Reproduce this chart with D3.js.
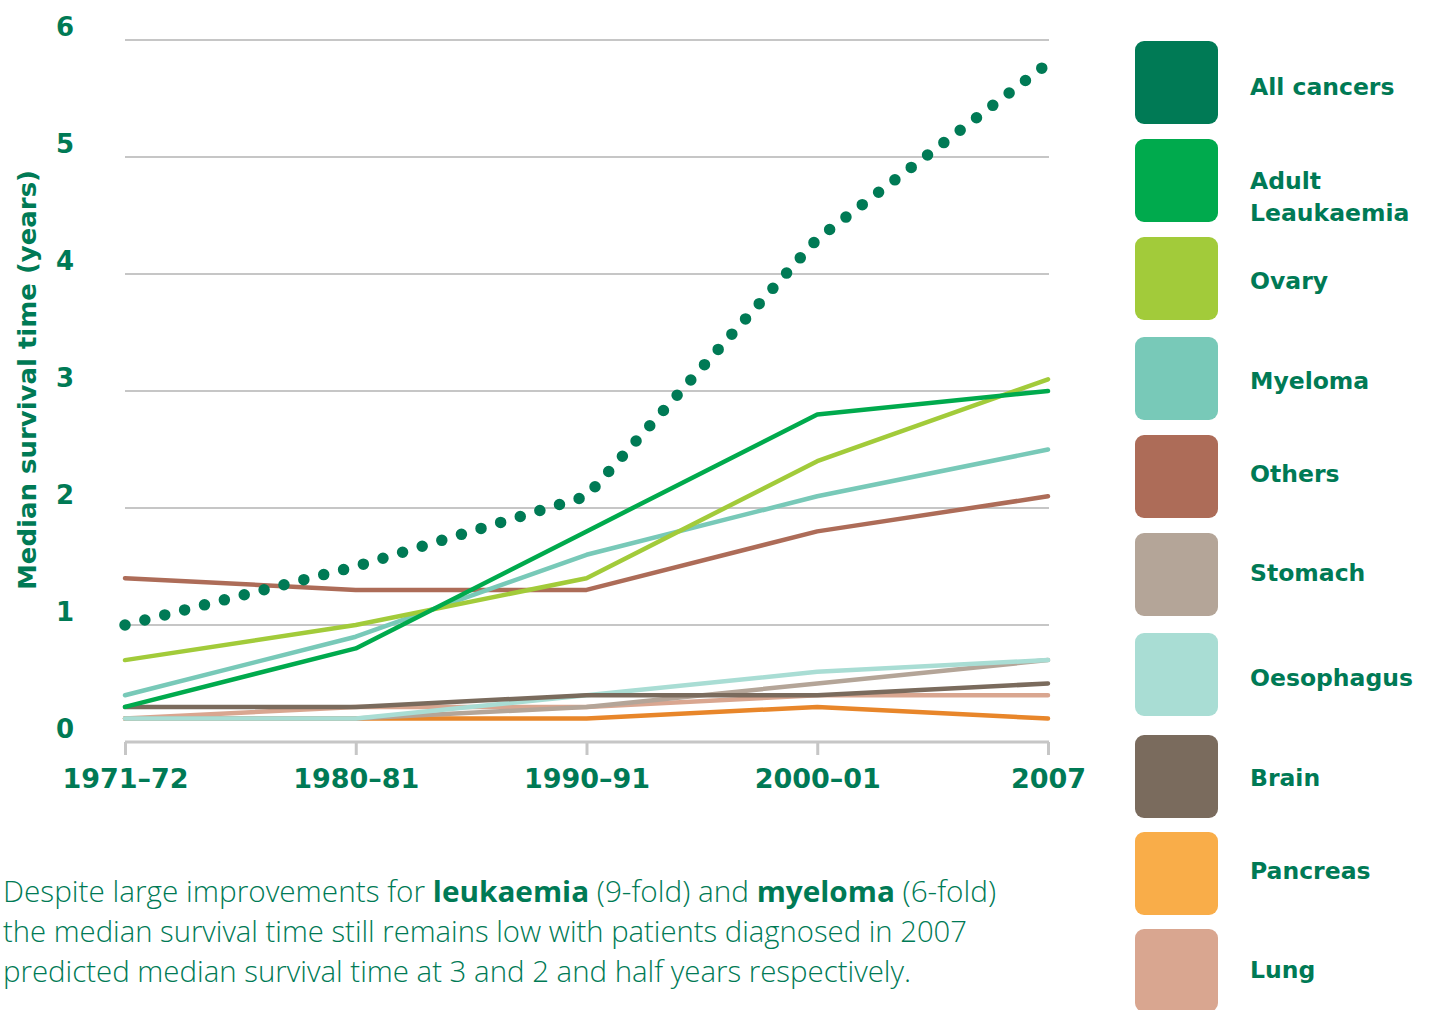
<!DOCTYPE html>
<html><head><meta charset="utf-8">
<script src="https://cdn.jsdelivr.net/npm/d3@7"></script>
<style>body{margin:0;background:#fff}svg{display:block}</style>
</head><body>
<svg id="c" width="1435" height="1010"></svg>
<script>
const periods = ["1971–72","1980–81","1990–91","2000–01","2007"];
const yTicks = [0,1,2,3,4,5,6];
const seriesNames = ["All cancers","Adult Leaukaemia","Ovary","Myeloma","Others","Stomach","Oesophagus","Brain","Pancreas","Lung"];
const legendColors = ["#007a55","#00aa4d","#a2cb3a","#78c9b8","#ad6c58","#b4a598","#a9ddd4","#7a6b5d","#f9ad49","#d9a690"];
const lineColors   = ["#007a55","#00aa4d","#a2cb3a","#78c9b8","#ad6c58","#b4a598","#a9ddd4","#7a6b5d","#e8862a","#d9a690"];
const allCancers  = [1.0,1.5,2.1,4.3,5.8];
const leukaemia   = [0.3,0.8,1.8,2.8,3.0];
const ovary       = [0.7,1.0,1.4,2.4,3.1];
const myeloma     = [0.4,0.9,1.6,2.1,2.5];
const others      = [1.4,1.3,1.3,1.8,2.1];
const stomach     = [0.2,0.2,0.3,0.5,0.7];
const oesophagus  = [0.2,0.2,0.4,0.6,0.7];
const brain       = [0.3,0.3,0.4,0.4,0.5];
const pancreas    = [0.2,0.2,0.2,0.3,0.2];
const lung        = [0.2,0.3,0.3,0.4,0.4];
const seriesValues = [allCancers,leukaemia,ovary,myeloma,others,stomach,oesophagus,brain,pancreas,lung];

const green = "#007a55";
const boldFont = "'DejaVu Sans', sans-serif";
const svg = d3.select("#c");
const x = d3.scalePoint().domain(periods).range([125,1048]);
const y = d3.scaleLinear().domain([0,6]).range([742,40]);

// gridlines
svg.append("g").selectAll("line").data(yTicks.filter(d=>d>0)).join("line")
  .attr("x1",125).attr("x2",1049).attr("y1",d=>y(d)).attr("y2",d=>y(d))
  .attr("stroke","#c6c6c6").attr("stroke-width",2);
// y labels
svg.append("g").selectAll("text").data(yTicks).join("text")
  .attr("x",65).attr("y",d=>y(d)-4).attr("text-anchor","middle")
  .attr("font-family",boldFont).attr("font-weight",700)
  .attr("font-size",26).attr("fill",green).text(d=>d);

// x axis
const xAxis = d3.axisBottom(x).tickSize(13).tickPadding(10).tickSizeOuter(0);
const gx = svg.append("g").attr("transform","translate(0,742)").call(xAxis);
gx.select(".domain").attr("stroke","#c6c6c6").attr("stroke-width",3).attr("d","M125,0H1049");
gx.selectAll(".tick line").attr("stroke","#c6c6c6").attr("stroke-width",3);
gx.selectAll(".tick text").attr("font-family",boldFont).attr("font-weight",700)
  .attr("font-size",27).attr("fill",green).attr("dy","0.71em").attr("y",27);

// y title
svg.append("text").attr("transform","translate(36,380) rotate(-90)").attr("text-anchor","middle")
  .attr("font-family",boldFont).attr("font-weight",700).attr("font-size",25)
  .attr("textLength",420).attr("lengthAdjust","spacingAndGlyphs")
  .attr("fill",green).text("Median survival time (years)");

// lines
const line = d3.line().x((d,i)=>x(periods[i])).y(d=>y(d));
const order = [9,8,5,6,7,4,3,2,1];
const gl = svg.append("g").attr("fill","none");
order.forEach(k=>{
  gl.append("path").attr("d",line(seriesValues[k])).attr("stroke",lineColors[k])
    .attr("stroke-width",4.5).attr("stroke-linejoin","round").attr("stroke-linecap","round");
});
gl.append("path").attr("d",line(seriesValues[0])).attr("stroke",lineColors[0])
  .attr("stroke-width",11.5).attr("stroke-linecap","round").attr("stroke-dasharray","0 20.5");

// legend
const legendY = [82,180,278,378,476,574,674,776,873,970];
const labelY  = [95,189,289,389,482,581,686,786,879,978];
const lg = svg.append("g");
seriesNames.forEach((n,i)=>{
  lg.append("rect").attr("x",1135).attr("y",legendY[i]-41).attr("width",83).attr("height",83)
    .attr("rx",9).attr("fill",legendColors[i]);
  const t = lg.append("text").attr("x",1250).attr("font-family",boldFont)
    .attr("font-weight",700).attr("font-size",23.5).attr("fill",green);
  if(n==="Adult Leaukaemia"){
    t.append("tspan").attr("x",1250).attr("y",labelY[i]).text("Adult");
    t.append("tspan").attr("x",1250).attr("y",labelY[i]+32).text("Leaukaemia");
  } else {
    t.attr("y",labelY[i]).text(n);
  }
});

// caption
const cap = svg.append("g").attr("font-family","'Open Sans', sans-serif")
  .attr("font-size",29).attr("fill",green).attr("font-weight",300);
const c1 = cap.append("text").attr("x",3).attr("y",902).attr("textLength",993).attr("lengthAdjust","spacingAndGlyphs");
c1.append("tspan").text("Despite large improvements for ");
c1.append("tspan").attr("font-weight",700).text("leukaemia");
c1.append("tspan").text(" (9-fold) and ");
c1.append("tspan").attr("font-weight",700).text("myeloma");
c1.append("tspan").text(" (6-fold)");
cap.append("text").attr("x",3).attr("y",942).attr("textLength",964).attr("lengthAdjust","spacingAndGlyphs")
  .text("the median survival time still remains low with patients diagnosed in 2007");
cap.append("text").attr("x",3).attr("y",982).attr("textLength",908).attr("lengthAdjust","spacingAndGlyphs")
  .text("predicted median survival time at 3 and 2 and half years respectively.");
</script>
</body></html>
